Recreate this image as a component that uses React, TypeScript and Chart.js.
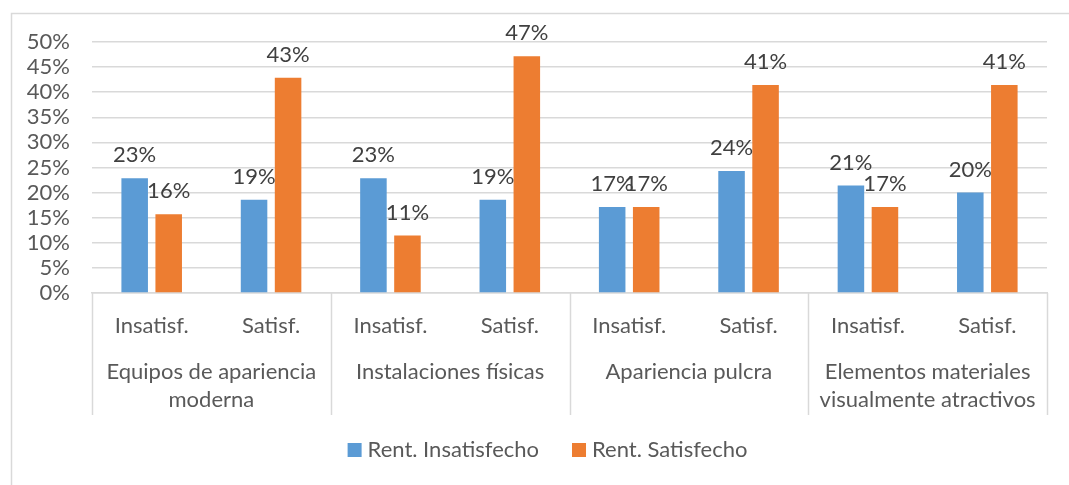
import React, { useEffect, useRef } from 'react';
import { Chart, registerables } from 'chart.js';

Chart.register(...registerables);

const categories = ['Insatisf.', 'Satisf.', 'Insatisf.', 'Satisf.', 'Insatisf.', 'Satisf.', 'Insatisf.', 'Satisf.'];
const groupLabels = [
  ['Equipos de apariencia', 'moderna'],
  ['Instalaciones físicas'],
  ['Apariencia pulcra'],
  ['Elementos materiales', 'visualmente atractivos'],
];
const rentInsatisfecho = [22.86, 18.57, 22.86, 18.57, 17.14, 24.29, 21.43, 20.0];
const rentSatisfecho = [15.71, 42.86, 11.43, 47.14, 17.14, 41.43, 17.14, 41.43];
const seriesNames = ['Rent. Insatisfecho', 'Rent. Satisfecho'];
const seriesColors = ['#5B9BD5', '#ED7D31'];

const FONT = 'Lato, "Noto Sans", sans-serif';
const FS = 22;
const TEXT = '#595959';
const LINE = '#d9d9d9';

const decor = {
  id: 'decor',
  beforeDraw(chart: any) {
    const ctx = chart.ctx;
    ctx.save();
    ctx.strokeStyle = LINE;
    ctx.lineWidth = 1.5;
    ctx.beginPath();
    ctx.moveTo(11.5, 485);
    ctx.lineTo(11.5, 13.5);
    ctx.lineTo(1069, 13.5);
    ctx.stroke();
    ctx.restore();
  },
  afterDatasetsDraw(chart: any) {
    const ctx = chart.ctx;
    ctx.save();
    ctx.font = `${FS}px ${FONT}`;
    ctx.fillStyle = '#404040';
    ctx.textAlign = 'center';
    ctx.textBaseline = 'middle';
    chart.data.datasets.forEach((ds: any, di: number) => {
      const meta = chart.getDatasetMeta(di);
      meta.data.forEach((el: any, i: number) => {
        ctx.fillText(Math.round(ds.data[i]) + '%', el.x, el.y - 23);
      });
    });
    ctx.restore();
  },
  afterDraw(chart: any) {
    const ctx = chart.ctx;
    const xs = chart.scales.x;
    const area = chart.chartArea;
    ctx.save();
    ctx.strokeStyle = LINE;
    ctx.lineWidth = 1.5;
    const bounds: number[] = [area.left];
    for (let g = 1; g < groupLabels.length; g++) {
      bounds.push((xs.getPixelForValue(2 * g - 1) + xs.getPixelForValue(2 * g)) / 2);
    }
    bounds.push(area.right);
    bounds.forEach((b) => {
      const bx = Math.round(b) + 0.5;
      ctx.beginPath();
      ctx.moveTo(bx, area.bottom);
      ctx.lineTo(bx, xs.bottom);
      ctx.stroke();
    });
    ctx.font = `${FS}px ${FONT}`;
    ctx.fillStyle = TEXT;
    ctx.textAlign = 'center';
    ctx.textBaseline = 'middle';
    groupLabels.forEach((lines, g) => {
      const cx = (xs.getPixelForValue(2 * g) + xs.getPixelForValue(2 * g + 1)) / 2;
      lines.forEach((t, i) => ctx.fillText(t, cx, area.bottom + 79 + i * 28));
    });
    // legend
    const box = 14;
    const gapText = 6;
    const gapItem = 33;
    const widths = seriesNames.map((n) => ctx.measureText(n).width);
    const total = widths.reduce((a, w) => a + box + gapText + w, 0) + gapItem * (seriesNames.length - 1);
    let lx = 547.5 - total / 2;
    const ly = 450;
    ctx.textAlign = 'left';
    seriesNames.forEach((n, i) => {
      ctx.fillStyle = seriesColors[i];
      ctx.fillRect(lx, ly - box / 2, box, box);
      lx += box + gapText;
      ctx.fillStyle = TEXT;
      ctx.fillText(n, lx, ly);
      lx += widths[i] + gapItem;
    });
    ctx.restore();
  },
};

export default function App() {
  const ref = useRef<HTMLCanvasElement>(null);
  useEffect(() => {
    if (!ref.current) return;
    const chart = new Chart(ref.current, {
      type: 'bar',
      data: {
        labels: categories,
        datasets: [
          { label: seriesNames[0], data: rentInsatisfecho, backgroundColor: seriesColors[0] },
          { label: seriesNames[1], data: rentSatisfecho, backgroundColor: seriesColors[1] },
        ],
      },
      options: {
        animation: false,
        responsive: true,
        maintainAspectRatio: false,
        devicePixelRatio: 1,
        layout: { padding: { left: 0, right: 22, top: 42, bottom: 70 } },
        datasets: { bar: { categoryPercentage: 0.57, barPercentage: 0.78 } },
        plugins: { legend: { display: false }, tooltip: { enabled: false } },
        scales: {
          x: {
            grid: { display: false },
            border: { display: true, color: LINE, width: 1.5 },
            ticks: { font: { family: FONT, size: FS }, color: TEXT, padding: 12, maxRotation: 0, autoSkip: false },
            afterFit: (s: any) => { s.height = 122; },
          },
          y: {
            min: 0,
            max: 50,
            grid: { color: LINE, lineWidth: 1.5, drawTicks: false },
            border: { display: false },
            ticks: { stepSize: 5, autoSkip: false, font: { family: FONT, size: FS }, color: TEXT, padding: 22, callback: (v: any) => v + '%' },
            afterFit: (s: any) => { s.width = 92; },
          },
        },
      },
      plugins: [decor],
    });
    return () => chart.destroy();
  }, []);
  return (
    <div style={{ position: 'fixed', left: 0, top: 0, width: 1069, height: 485, background: '#fff' }}>
      <canvas ref={ref} />
    </div>
  );
}
